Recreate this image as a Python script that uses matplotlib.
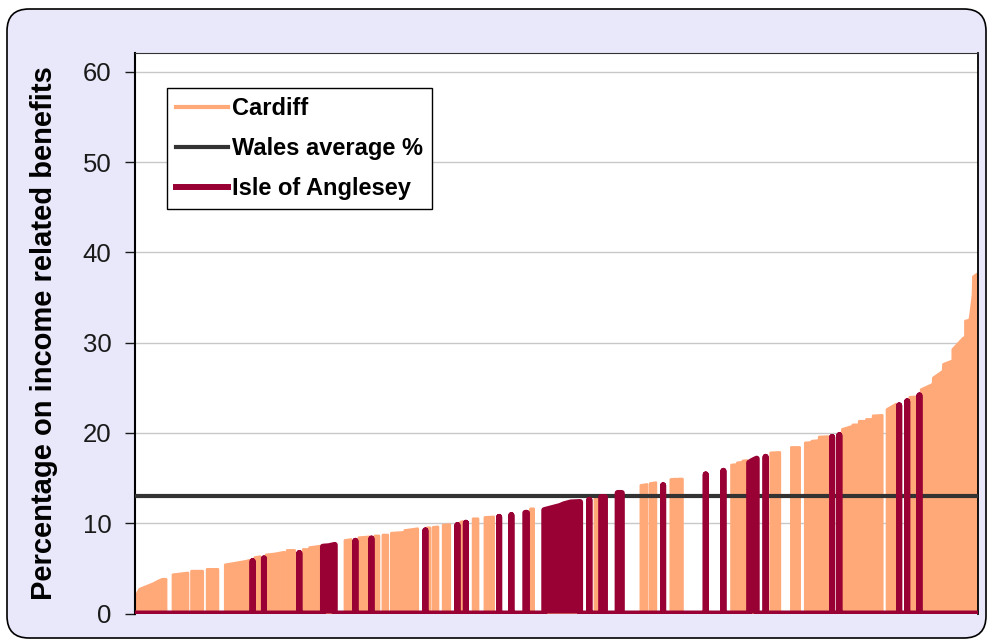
import matplotlib
matplotlib.use("Agg")
import matplotlib.pyplot as plt
from matplotlib.lines import Line2D
from matplotlib.patches import FancyBboxPatch
from matplotlib.transforms import IdentityTransform

plt.rcParams['font.family'] = ['Liberation Sans', 'DejaVu Sans']

# LSOAs ranked across Wales (x = percentile of the Wales ranking),
# y = percentage on income related benefits. Each run is a block of
# consecutive LSOAs from the same area; everything else is 0.
cardiff_runs = [
    [(0.0, 1.6), (0.25, 2.2), (0.55, 2.7), (1.35, 3.0), (2.15, 3.3), (2.75, 3.6), (3.25, 3.8), (3.7, 3.8)],
    [(4.5, 4.3), (6.3, 4.5)],
    [(6.7, 4.7), (8.05, 4.7)],
    [(8.55, 4.9), (9.85, 4.9)],
    [(10.7, 5.4), (12.0, 5.6), (13.2, 5.8), (13.6, 5.9)],
    [(14.2, 6.2), (14.85, 6.3)],
    [(15.55, 6.5), (16.55, 6.6), (17.75, 6.8)],
    [(18.05, 7.0), (18.95, 7.0)],
    [(19.95, 7.1), (20.5, 7.1)],
    [(20.7, 7.3), (22.2, 7.5)],
    [(24.9, 8.1), (25.65, 8.2)],
    [(26.55, 8.4), (27.85, 8.5)],
    [(28.45, 8.6), (28.95, 8.6)],
    [(29.4, 8.7), (30.0, 8.7)],
    [(30.4, 8.9), (31.95, 9.0), (32.0, 9.2), (33.55, 9.4)],
    [(34.65, 9.5), (35.0, 9.5)],
    [(35.35, 9.55), (35.95, 9.6)],
    [(36.55, 9.8), (37.35, 9.85)],
    [(38.6, 10.1), (38.85, 10.2)],
    [(40.1, 10.5), (40.7, 10.5)],
    [(41.5, 10.65), (42.55, 10.7)],
    [(46.9, 11.6), (47.3, 11.6)],
    [(54.55, 12.9), (54.9, 12.9)],
    [(60.0, 14.2), (60.75, 14.3)],
    [(61.1, 14.4), (61.8, 14.5)],
    [(63.55, 14.85), (64.2, 14.9)],
    [(64.4, 14.9), (64.95, 14.9)],
    [(70.75, 16.45), (71.25, 16.5)],
    [(71.45, 16.7), (72.05, 16.75)],
    [(72.1, 16.9), (72.6, 16.95)],
    [(75.4, 17.8), (76.5, 17.85)],
    [(77.85, 18.4), (78.85, 18.4)],
    [(79.5, 18.9), (80.2, 18.95), (80.3, 19.1), (81.0, 19.15)],
    [(81.15, 19.55), (82.2, 19.6)],
    [(83.9, 20.4), (84.95, 20.7)],
    [(85.15, 20.9), (85.75, 20.9)],
    [(85.9, 21.3), (86.5, 21.3)],
    [(86.75, 21.5), (87.45, 21.5)],
    [(87.55, 21.9), (88.65, 21.95)],
    [(89.2, 22.6), (90.3, 23.2)],
    [(91.9, 23.95), (92.6, 24.0)],
    [(93.25, 24.8), (94.65, 25.4), (94.7, 26.1), (95.85, 26.85), (95.9, 27.6), (96.85, 27.95)],
    [(97.0, 29.25), (98.3, 30.55)],
    [(98.5, 32.4), (99.0, 32.5), (99.1, 33.0), (99.4, 35.3), (99.45, 37.3), (99.9, 37.6)],
]

anglesey_runs = [
    [(13.95, 5.8)],
    [(15.3, 6.1)],
    [(19.5, 6.7)],
    [(22.3, 7.4), (23.0, 7.45), (23.7, 7.6)],
    [(26.15, 8.05)],
    [(28.05, 8.3)],
    [(34.45, 9.2)],
    [(38.25, 9.8)],
    [(39.25, 10.05)],
    [(43.2, 10.7)],
    [(44.65, 10.9)],
    [(46.3, 11.15), (46.5, 11.15)],
    [(48.55, 11.45), (50.4, 11.9), (50.9, 12.1), (51.3, 12.2), (51.7, 12.3), (52.8, 12.35)],
    [(53.9, 12.6)],
    [(55.3, 12.9), (55.75, 12.9)],
    [(57.25, 13.35), (57.75, 13.35)],
    [(62.65, 14.2)],
    [(67.7, 15.4)],
    [(69.8, 15.8)],
    [(72.85, 16.7), (73.3, 16.95), (73.75, 17.15)],
    [(74.8, 17.35)],
    [(82.7, 19.55)],
    [(83.55, 19.75)],
    [(90.65, 23.05)],
    [(91.6, 23.5)],
    [(93.05, 24.15)],
]

wales_average = 13.0
series_labels = ['Cardiff', 'Wales average %', 'Isle of Anglesey']
y_ticks = [0, 10, 20, 30, 40, 50, 60]

cardiff_col = '#FFA878'
anglesey_col = '#990033'
wales_col = '#333333'


def spikes(runs):
    # join the runs into one line that drops to 0 between them
    xs, ys = [0.0], [0.0]
    for run in runs:
        xs.append(run[0][0])
        ys.append(0.0)
        for x, v in run:
            xs.append(x)
            ys.append(v)
        xs.append(run[-1][0])
        ys.append(0.0)
    xs.append(100.0)
    ys.append(0.0)
    return xs, ys


fig = plt.figure(figsize=(9.88, 6.41), dpi=100)
fig.patch.set_facecolor('white')

# rounded lavender frame behind the chart (pixel coords)
frame = FancyBboxPatch((7, 3), 979, 629, boxstyle="round,pad=0,rounding_size=22",
                       transform=IdentityTransform(), fc='#E8E8FA', ec='black', lw=1.2,
                       zorder=-10)
fig.patches.append(frame)
frame.set_figure(fig)

ax = fig.add_axes([0.1366, 0.0429, 0.8533, 0.8744])
ax.set_facecolor('white')

cx, cy = spikes(cardiff_runs)
ax.fill(cx, cy, color=cardiff_col, lw=0, zorder=2)
ax.plot(cx, cy, color=cardiff_col, lw=1.8, solid_joinstyle='round', zorder=2)

ax.axhline(wales_average, color=wales_col, lw=3, zorder=3)

axs, ays = spikes(anglesey_runs)
ax.fill(axs, ays, color=anglesey_col, lw=0, zorder=4)
ax.plot(axs, ays, color=anglesey_col, lw=4.3, solid_joinstyle='round', zorder=4)

ax.set_xlim(0, 100)
ax.set_ylim(0, 62.07)
ax.set_xticks([])
ax.set_yticks(y_ticks)
ax.tick_params(axis='y', length=7, width=1, pad=10, labelsize=18.5, colors='#1a1a1a')
ax.yaxis.grid(True, color='#C8C8C8', lw=1)
ax.set_axisbelow(True)

ax.spines['bottom'].set_visible(False)
ax.spines['left'].set_linewidth(1.5)
ax.spines['top'].set_color('#333333')
ax.spines['right'].set_linewidth(1.3)

ax.set_ylabel('Percentage on income related benefits', fontsize=21, fontweight='bold')
ax.yaxis.set_label_coords(-0.091, 0.5)

handles = [Line2D([], [], color=cardiff_col, lw=3),
           Line2D([], [], color=wales_col, lw=3),
           Line2D([], [], color=anglesey_col, lw=4.3)]
leg = ax.legend(handles, series_labels, loc='upper left',
                bbox_to_anchor=(167 / 988, 1 - 88 / 641), bbox_transform=fig.transFigure,
                borderaxespad=0, prop={'weight': 'bold', 'size': 17},
                handlelength=2.2, handletextpad=0.17, labelspacing=0.72, borderpad=0.38,
                fancybox=False, framealpha=1, edgecolor='black')
leg.get_frame().set_linewidth(1)

fig.savefig('out.png', dpi=100)
